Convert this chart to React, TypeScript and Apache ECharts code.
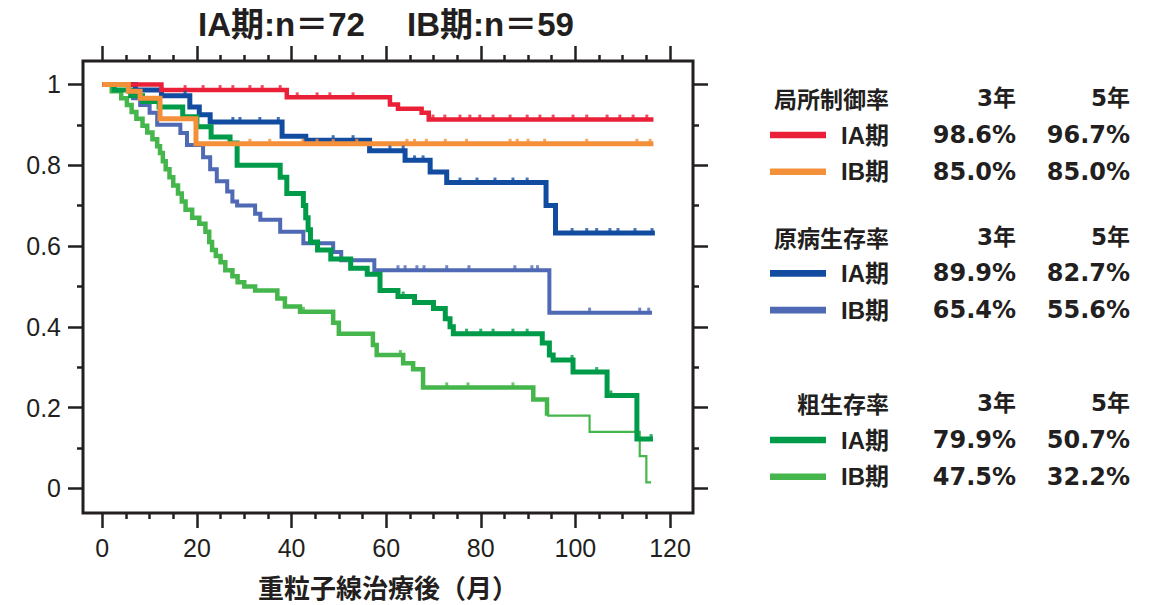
import React, { useEffect, useRef } from "react";
import * as echarts from "echarts";

// ---------- axis ticks ----------
const xMajorTicks = [0, 20, 40, 60, 80, 100, 120];
const xMinorTicks = [5, 10, 15, 25, 30, 35, 45, 50, 55, 65, 70, 75, 85, 90, 95, 105, 110, 115];
const yMajorTicks = [0, 0.2, 0.4, 0.6, 0.8, 1];
const yMinorTicks = [0.1, 0.3, 0.5, 0.7, 0.9];

// ---------- Kaplan-Meier curves: [month, value] (value holds from that month) ----------
const lcIA = [
  [0, 1], [12.5, 0.986], [39, 0.968], [60.8, 0.95], [62.5, 0.94], [67.5, 0.93], [69, 0.913], [116.5, 0.913],
];
const lcIB = [
  [0, 1], [5.5, 0.983], [8, 0.966], [12.2, 0.915], [19.8, 0.853], [116.5, 0.853],
];
const cssIA = [
  [0, 1], [7, 0.986], [12.5, 0.972], [18.5, 0.944], [20.5, 0.925], [22.8, 0.907], [38, 0.872], [43, 0.862],
  [56.5, 0.836], [64, 0.812], [69.3, 0.783], [72.8, 0.757], [93.8, 0.7], [95.8, 0.632], [116.8, 0.632],
];
const cssIB = [
  [0, 1], [5.5, 0.983], [6.5, 0.966], [8, 0.949], [10, 0.93], [11.6, 0.9], [16.5, 0.88], [17.9, 0.85],
  [21.3, 0.82], [22.8, 0.79], [24.2, 0.76], [26.4, 0.735], [27.5, 0.71], [28.5, 0.7], [32.3, 0.68],
  [33.4, 0.665], [37.6, 0.635], [42.5, 0.607], [48.8, 0.585], [50.5, 0.565], [57.5, 0.54], [94.5, 0.435],
  [116.2, 0.435],
];
const osIA = [
  [0, 1], [2.5, 0.986], [6, 0.972], [8.5, 0.958], [12, 0.944], [17, 0.92], [20, 0.895], [23, 0.87],
  [27, 0.855], [28.5, 0.8], [37.6, 0.77], [39, 0.73], [42.5, 0.7], [43, 0.67], [43.5, 0.64], [44, 0.61],
  [45.5, 0.59], [48.3, 0.568], [52.5, 0.545], [56, 0.53], [58.7, 0.49], [62.5, 0.475], [66, 0.46],
  [70, 0.445], [72.5, 0.42], [73.5, 0.4], [74.2, 0.383], [93, 0.36], [94.5, 0.33], [95.3, 0.318],
  [99.5, 0.288], [106.7, 0.23], [113, 0.122], [116.4, 0.122],
];
const osIB = [
  [0, 1], [2, 0.983], [4, 0.966], [5.2, 0.949], [6.2, 0.932], [7.2, 0.915], [8.5, 0.898], [9.5, 0.881],
  [10.6, 0.864], [11.6, 0.847], [12.2, 0.83], [12.8, 0.81], [13.4, 0.79], [14.2, 0.77], [15, 0.75],
  [16, 0.73], [16.8, 0.71], [17.6, 0.69], [19, 0.67], [20.5, 0.655], [21.8, 0.635], [22.6, 0.61],
  [23.2, 0.59], [24, 0.575], [25, 0.56], [26, 0.54], [27.5, 0.525], [28.6, 0.51], [30, 0.5], [32.3, 0.49],
  [37, 0.47], [38.6, 0.45], [41.8, 0.437], [48.8, 0.41], [50, 0.383], [57.2, 0.355], [58, 0.33],
  [63.6, 0.31], [65.7, 0.295], [67.8, 0.25], [91.1, 0.22], [94, 0.18], [103, 0.14], [113.6, 0.08],
  [115, 0.015], [116, 0.015],
];
const osIBThinFrom = 94;

// ---------- censor times (months) ----------
const lcIACens = [17.5, 21.3, 24.9, 27.6, 31.2, 33.8, 37.6, 41.2, 45.4, 48.1, 53, 69.9, 72.4, 75.6, 77.7, 79.8, 82.6, 86.2, 89.8, 92.5, 95.3, 99.5, 102.4, 106.7, 109.4, 112.2, 115.1];
const lcIBCens = [31.2, 35.4, 42.4, 45.4, 48.8, 53.8, 64.4, 66, 68.5, 72.5, 77, 86.2, 87.7, 90, 93.5, 102.4, 113, 115.8];
const cssIACens = [17.5, 27.6, 29.1, 33.3, 37.2, 43.2, 48.8, 53, 60.8, 63.6, 66, 67.8, 75.6, 79.2, 83, 86.8, 89.8, 99.3, 102.4, 104.5, 107.3, 109, 112.6, 116.2];
const cssIBCens = [62.5, 64, 66.5, 68, 72.8, 77.5, 87.2, 90.8, 92, 103, 113.6, 115.5];
const osIACens = [63.6, 73.5, 77, 80, 82.6, 86.8, 89.8, 95.3, 99.3, 104.5, 107.5, 116];
const osIBCens = [42.5, 63, 72.8, 77.3, 86.8];

// ---------- colours ----------
const cRed = "#ea2038";
const cOrange = "#f4903a";
const cBlueIA = "#124ca0";
const cBlueIB = "#4f69b4";
const cGreenIA = "#009b48";
const cGreenIB = "#45b64b";

// ---------- legend table ----------
const legendTitles = ["局所制御率", "原病生存率", "粗生存率"];
const legendStages = ["IA期", "IB期"];
const legendColors = [[cRed, cOrange], [cBlueIA, cBlueIB], [cGreenIA, cGreenIB]];
const legend3yr = [["98.6%", "85.0%"], ["89.9%", "65.4%"], ["79.9%", "47.5%"]];
const legend5yr = [["96.7%", "85.0%"], ["82.7%", "55.6%"], ["50.7%", "32.2%"]];
const colHeads = ["3年", "5年"];

const titleText = "IA期:n＝72　 IB期:n＝59";
const xTitle = "重粒子線治療後（月）";

function valueAt(curve: number[][], t: number) {
  let v = curve[0][1];
  for (const [ct, cv] of curve) {
    if (ct <= t) v = cv;
    else break;
  }
  return v;
}

const INK = "#231f20";

export default function App() {
  const ref = useRef<HTMLDivElement>(null);
  useEffect(() => {
    if (!ref.current) return;
    const chart = echarts.init(ref.current, null, { renderer: "svg" });

    const X_MIN = -4.08, X_MAX = 124.86, Y_MIN = -0.061, Y_MAX = 1.058;
    const tickStyle = { color: INK, width: 2.5 };
    const mkX = (pos: string, vals: number[], len: number, labels: boolean) => ({
      type: "value", position: pos, min: X_MIN, max: X_MAX,
      axisLine: { show: false, onZero: false },
      splitLine: { show: false },
      axisTick: { show: true, length: len, lineStyle: tickStyle, customValues: vals },
      axisLabel: labels
        ? { show: true, customValues: vals, margin: 22, fontSize: 25, color: INK, fontFamily: "Liberation Sans" }
        : { show: false },
    });
    const mkY = (pos: string, vals: number[], len: number, labels: boolean) => ({
      type: "value", position: pos, min: Y_MIN, max: Y_MAX,
      axisLine: { show: false, onZero: false },
      splitLine: { show: false },
      axisTick: { show: true, length: len, lineStyle: tickStyle, customValues: vals },
      axisLabel: labels
        ? {
            show: true, customValues: vals, margin: 22, fontSize: 25, color: INK, fontFamily: "Liberation Sans",
            formatter: (v: number) => (Math.abs(v) < 1e-9 ? "0" : Math.abs(v - 1) < 1e-9 ? "1" : String(+v.toFixed(1))),
          }
        : { show: false },
    });

    const lineSeries = (name: string, data: number[][], color: string, width: number) => ({
      name, type: "line", step: "end", data, showSymbol: false, symbol: "none",
      lineStyle: { color, width, cap: "butt", join: "miter" }, z: 3,
    });
    const censSeries = (name: string, curve: number[][], times: number[], color: string) => ({
      name: name + "-cens", type: "scatter",
      data: times.map((t) => [t, valueAt(curve, t)]),
      symbol: "rect", symbolSize: [3, 5], symbolOffset: [0, -2.5],
      itemStyle: { color }, z: 4, silent: true,
    });

    const osIBThick = osIB.filter((p) => p[0] <= osIBThinFrom);
    const osIBThin = osIB.filter((p) => p[0] >= osIBThinFrom);

    const graphics: any[] = [];
    graphics.push({
      type: "text",
      style: { text: titleText, x: 386, y: 24, align: "center", verticalAlign: "middle", fontSize: 33, fontWeight: "bold", fill: INK, fontFamily: "Liberation Sans, Noto Sans CJK JP" },
    });
    graphics.push({
      type: "text",
      style: { text: xTitle, x: 388, y: 586, align: "center", verticalAlign: "middle", fontSize: 26, fontWeight: "bold", fill: INK, fontFamily: "Noto Sans CJK JP" },
    });

    const headYs = [98.3, 236.7, 403.3];
    const rowGap = [36.7, 73.4];
    const lineX0 = 770, lineX1 = 826, stageRight = 889, col3Right = 1016, col5Right = 1130;
    const cjkFont = "Noto Sans CJK JP";
    const numFont = "DejaVu Sans, Noto Sans CJK JP";
    legendTitles.forEach((title, gi) => {
      const hy = headYs[gi];
      graphics.push({ type: "text", style: { text: title, x: stageRight, y: hy, align: "right", verticalAlign: "middle", fontSize: 23, fontWeight: "bold", fill: INK, fontFamily: cjkFont } });
      graphics.push({ type: "text", style: { text: colHeads[0], x: col3Right, y: hy, align: "right", verticalAlign: "middle", fontSize: 23, fontWeight: "bold", fill: INK, fontFamily: numFont } });
      graphics.push({ type: "text", style: { text: colHeads[1], x: col5Right, y: hy, align: "right", verticalAlign: "middle", fontSize: 23, fontWeight: "bold", fill: INK, fontFamily: numFont } });
      legendStages.forEach((st, si) => {
        const ry = hy + rowGap[si];
        graphics.push({ type: "rect", shape: { x: lineX0, y: ry - 3.3, width: lineX1 - lineX0, height: 6.6 }, style: { fill: legendColors[gi][si] } });
        graphics.push({ type: "text", style: { text: st, x: stageRight, y: ry, align: "right", verticalAlign: "middle", fontSize: 24, fontWeight: "bold", fill: INK, fontFamily: "Liberation Sans, Noto Sans CJK JP" } });
        graphics.push({ type: "text", style: { text: legend3yr[gi][si], x: col3Right, y: ry, align: "right", verticalAlign: "middle", fontSize: 24, fontWeight: "bold", fill: INK, fontFamily: numFont } });
        graphics.push({ type: "text", style: { text: legend5yr[gi][si], x: col5Right, y: ry, align: "right", verticalAlign: "middle", fontSize: 24, fontWeight: "bold", fill: INK, fontFamily: numFont } });
      });
    });

    chart.setOption({
      animation: false,
      backgroundColor: "#ffffff",
      grid: {
        left: 83, top: 61, width: 610, height: 452,
        show: true, borderColor: INK, borderWidth: 3, backgroundColor: "transparent",
        containLabel: false, outerBoundsMode: "none",
      },
      xAxis: [
        mkX("bottom", xMajorTicks, 15, true),
        mkX("bottom", xMinorTicks, 6, false),
        mkX("top", xMajorTicks, 15, false),
        mkX("top", xMinorTicks, 6, false),
      ],
      yAxis: [
        mkY("left", yMajorTicks, 15, true),
        mkY("left", yMinorTicks, 6, false),
        mkY("right", yMajorTicks, 15, false),
        mkY("right", yMinorTicks, 6, false),
      ],
      series: [
        lineSeries("cssIB", cssIB, cBlueIB, 4),
        censSeries("cssIB", cssIB, cssIBCens, cBlueIB),
        lineSeries("cssIA", cssIA, cBlueIA, 5),
        censSeries("cssIA", cssIA, cssIACens, cBlueIA),
        lineSeries("osIB", osIBThick, cGreenIB, 4.5),
        lineSeries("osIB-thin", osIBThin, cGreenIB, 2.2),
        censSeries("osIB", osIB, osIBCens, cGreenIB),
        lineSeries("osIA", osIA, cGreenIA, 5),
        censSeries("osIA", osIA, osIACens, cGreenIA),
        lineSeries("lcIA", lcIA, cRed, 4.5),
        censSeries("lcIA", lcIA, lcIACens, cRed),
        lineSeries("lcIB", lcIB, cOrange, 5),
        censSeries("lcIB", lcIB, lcIBCens, cOrange),
      ],
      graphic: graphics,
    });
    return () => chart.dispose();
  }, []);
  return <div ref={ref} style={{ position: "absolute", left: 0, top: 0, width: 1153, height: 605, background: "#fff" }} />;
}
